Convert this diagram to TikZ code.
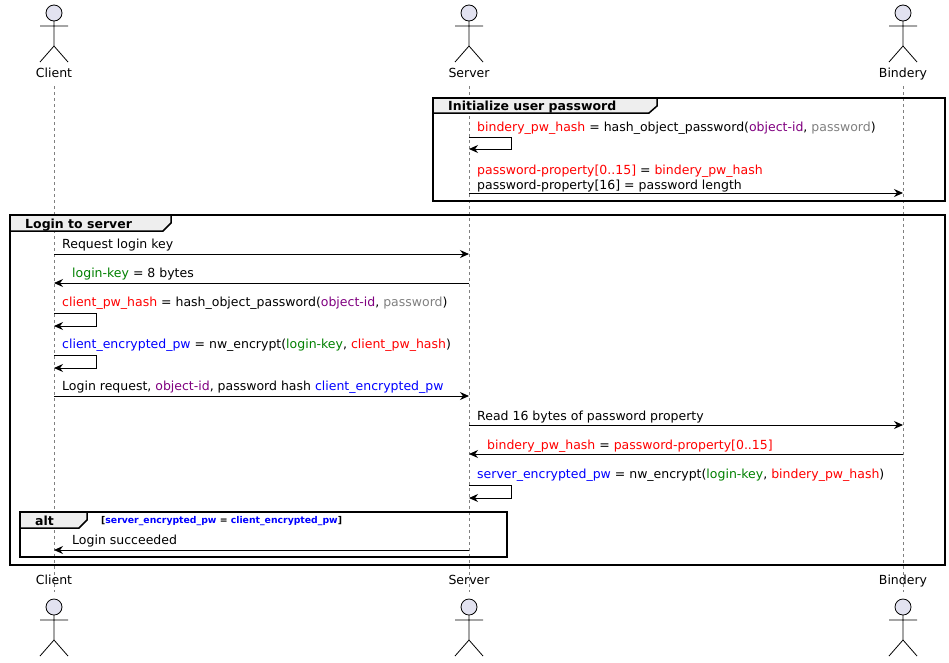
\documentclass[tikz,border=0pt]{standalone}
\usepackage{fontspec}
\setmainfont{DejaVu Sans}
\usetikzlibrary{arrows.meta, calc}
\definecolor{grn}{RGB}{0,128,0}
\definecolor{prp}{RGB}{128,0,128}
\definecolor{gry}{RGB}{128,128,128}
\definecolor{actfill}{RGB}{226,226,240}
\definecolor{tabfill}{RGB}{238,238,238}
\newcommand{\rd}[1]{\textcolor{red}{#1}}
\newcommand{\gr}[1]{\textcolor{grn}{#1}}
\newcommand{\pr}[1]{\textcolor{prp}{#1}}
\newcommand{\gy}[1]{\textcolor{gry}{#1}}
\newcommand{\bl}[1]{\textcolor{blue}{#1}}

\begin{document}
\begin{tikzpicture}[x=1pt, y=-1pt, >={Stealth[length=9pt, width=8pt]},
    font=\fontsize{12.5}{14}\selectfont,
    msg/.style={->, line width=1pt},
    lbl/.style={anchor=base west, inner sep=0pt},
    grp/.style={line width=1.5pt},
    tab/.style={line width=1.5pt, fill=tabfill}]
    \useasboundingbox (0, 0) rectangle (949, 662);
    % lifelines
    \coordinate(C)at(54, 0);
    \coordinate(S)at(469, 0);
    \coordinate(B)at(903, 0);
    \foreach \p/\t in {C/Client, S/Server, B/Bindery}{
        \draw[dashed, gray, line width=.7pt](\p|-0,86)--(\p|-0,592);
        \node[anchor=base](\p top)at($(\p)+(0,77)$){\t};
        \node[anchor=base](\p bot)at($(\p)+(0,584)$){\t};
        \foreach \y in {13, 607}{
            \draw[fill=actfill, line width=.8pt]($(\p)+(0,\y)$)circle(8);
            \draw[line width=.8pt]($(\p)+(0,\y+8)$)--++(0,25) ($(\p)+(-14,\y+13)$)--++(28,0)
                ($(\p)+(-14,\y+49)$)--($(\p)+(0,\y+33)$)--($(\p)+(14,\y+49)$);
        }
    }
    % groups
    \draw[grp](433, 98)rectangle(945, 201);
    \draw[tab](433, 98)--(657, 98)--(657, 106)--(649, 113)--(433, 113)--cycle;
    \node[lbl, font=\fontsize{12.5}{14}\selectfont\bfseries](g1)at(448, 110){Initialize user password};
    \draw[grp](10, 215)rectangle(945, 565);
    \draw[tab](10, 215)--(171, 215)--(171, 223)--(163, 231)--(10, 231)--cycle;
    \node[lbl, font=\fontsize{12.5}{14}\selectfont\bfseries](g2)at(25, 228){Login to server};
    \draw[grp](20, 512)rectangle(507, 557);
    \draw[tab](20, 512)--(87, 512)--(87, 520)--(79, 528)--(20, 528)--cycle;
    \node[lbl, font=\fontsize{12.5}{14}\selectfont\bfseries](g3)at(35, 525){alt};
    \node[lbl, font=\fontsize{9.3}{11}\selectfont\bfseries](guard)at(101, 523)
        {[\bl{server\_encrypted\_pw} = \bl{client\_encrypted\_pw}]};
    % messages
    \draw[msg](S|-0,137)--++(42,0)--++(0,12)--(S|-0,149);
    \node[lbl](m1)at(477, 131){\rd{bindery\_pw\_hash} = hash\_object\_password(\pr{object-id}, \gy{password})};
    \draw[msg](S|-0,193)--(B|-0,193);
    \node[lbl](m2a)at(477, 174){\rd{password-property[0..15]} = \rd{bindery\_pw\_hash}};
    \node[lbl](m2b)at(477, 189){password-property[16] = password length};
    \draw[msg](C|-0,254)--(S|-0,254);
    \node[lbl](m3)at(62, 248){Request login key};
    \draw[msg](S|-0,283)--(C|-0,283);
    \node[lbl](m4)at(72, 277){\gr{login-key} = 8 bytes};
    \draw[msg](C|-0,313)--++(42,0)--++(0,13)--(C|-0,326);
    \node[lbl](m5)at(62, 306){\rd{client\_pw\_hash} = hash\_object\_password(\pr{object-id}, \gy{password})};
    \draw[msg](C|-0,355)--++(42,0)--++(0,13)--(C|-0,368);
    \node[lbl](m6)at(62, 348){\bl{client\_encrypted\_pw} = nw\_encrypt(\gr{login-key}, \rd{client\_pw\_hash})};
    \draw[msg](C|-0,396)--(S|-0,396);
    \node[lbl](m7)at(62, 390){Login request, \pr{object-id}, password hash \bl{client\_encrypted\_pw}};
    \draw[msg](S|-0,425)--(B|-0,425);
    \node[lbl](m8)at(477, 420){Read 16 bytes of password property};
    \draw[msg](B|-0,454)--(S|-0,454);
    \node[lbl](m9)at(487, 449){\rd{bindery\_pw\_hash} = \rd{password-property[0..15]}};
    \draw[msg](S|-0,485)--++(42,0)--++(0,13)--(S|-0,498);
    \node[lbl](m10)at(477, 478){\bl{server\_encrypted\_pw} = nw\_encrypt(\gr{login-key}, \rd{bindery\_pw\_hash})};
    \draw[msg](S|-0,550)--(C|-0,550);
    \node[lbl](m11)at(72, 544){Login succeeded};
\end{tikzpicture}
\end{document}
